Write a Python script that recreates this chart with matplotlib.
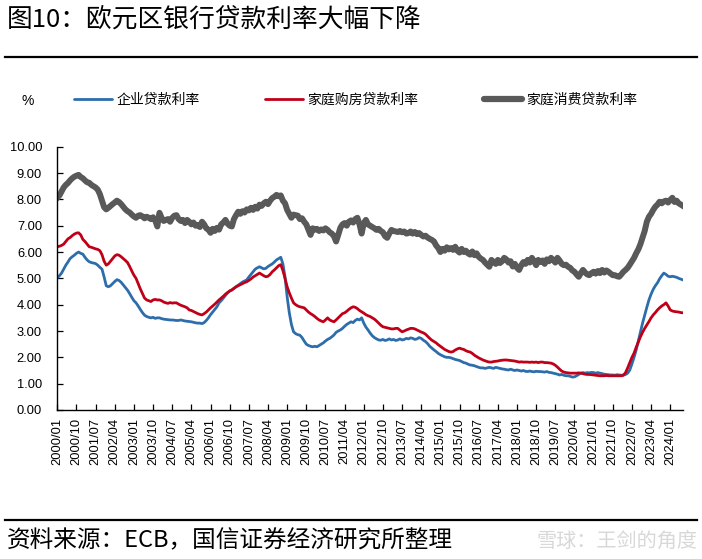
import matplotlib
matplotlib.use("Agg")
import matplotlib.pyplot as plt
from matplotlib.lines import Line2D
import numpy as np

plt.rcParams['font.family'] = ['Liberation Sans', 'Noto Sans CJK SC', 'DejaVu Sans']
CJK = ['Noto Sans CJK SC', 'DejaVu Sans']

# monthly, 2000/01 - 2024/07
months = [f"{y}/{m:02d}" for y in range(2000, 2025) for m in range(1, 13)][:295]

corp_rate = [
    5.02, 5.10, 5.20, 5.35, 5.50, 5.62, 5.75, 5.82, 5.88, 5.95, 6.00, 5.95,
    5.92, 5.80, 5.70, 5.63, 5.60, 5.58, 5.56, 5.50, 5.42, 5.35, 5.05, 4.72,
    4.68, 4.72, 4.80, 4.88, 4.95, 4.92, 4.85, 4.75, 4.65, 4.55, 4.42, 4.28,
    4.15, 4.07, 3.95, 3.82, 3.70, 3.60, 3.55, 3.52, 3.50, 3.52, 3.48, 3.50,
    3.50, 3.47, 3.45, 3.44, 3.43, 3.42, 3.42, 3.41, 3.40, 3.40, 3.42, 3.40,
    3.38, 3.37, 3.36, 3.35, 3.33, 3.31, 3.30, 3.30, 3.28, 3.32, 3.40, 3.50,
    3.62, 3.72, 3.82, 3.92, 4.07, 4.15, 4.25, 4.35, 4.45, 4.52, 4.56, 4.62,
    4.68, 4.74, 4.80, 4.86, 4.90, 4.94, 5.05, 5.15, 5.25, 5.35, 5.40, 5.44,
    5.40, 5.36, 5.38, 5.45, 5.50, 5.55, 5.62, 5.70, 5.75, 5.80, 5.55, 5.05,
    4.30, 3.70, 3.25, 2.97, 2.90, 2.86, 2.84, 2.75, 2.62, 2.50, 2.45, 2.42,
    2.40, 2.42, 2.40, 2.45, 2.50, 2.55, 2.62, 2.68, 2.72, 2.78, 2.85, 2.95,
    3.00, 3.04, 3.10, 3.18, 3.25, 3.30, 3.35, 3.32, 3.40, 3.45, 3.42, 3.50,
    3.30, 3.15, 3.04, 2.92, 2.82, 2.75, 2.70, 2.66, 2.65, 2.68, 2.64, 2.66,
    2.70, 2.66, 2.68, 2.64, 2.66, 2.70, 2.66, 2.68, 2.72, 2.70, 2.74, 2.72,
    2.68, 2.70, 2.75, 2.72, 2.65, 2.60, 2.52, 2.42, 2.35, 2.28, 2.22, 2.15,
    2.10, 2.06, 2.02, 2.00, 2.00, 1.98, 1.95, 1.92, 1.90, 1.88, 1.84, 1.80,
    1.78, 1.74, 1.71, 1.70, 1.68, 1.65, 1.62, 1.60, 1.60, 1.58, 1.60, 1.62,
    1.60, 1.58, 1.62, 1.60, 1.58, 1.56, 1.55, 1.53, 1.52, 1.55, 1.52, 1.50,
    1.52, 1.50, 1.48, 1.50, 1.47, 1.46, 1.48, 1.46, 1.45, 1.47, 1.46, 1.46,
    1.45, 1.44, 1.46, 1.43, 1.42, 1.40, 1.38, 1.36, 1.33, 1.35, 1.32, 1.30,
    1.30, 1.28, 1.25, 1.26, 1.30, 1.35, 1.40, 1.42, 1.40, 1.42, 1.41, 1.43,
    1.42, 1.40, 1.42, 1.40, 1.38, 1.36, 1.35, 1.34, 1.33, 1.33, 1.32, 1.34,
    1.33, 1.32, 1.33, 1.35, 1.40, 1.52, 1.75, 2.00, 2.28, 2.62, 2.95, 3.30,
    3.60, 3.90, 4.18, 4.40, 4.58, 4.72, 4.83, 4.98, 5.10, 5.20, 5.15, 5.08,
    5.06, 5.08, 5.06, 5.04, 5.00, 4.97, 4.94,
]

mortgage_rate = [
    6.20, 6.22, 6.25, 6.30, 6.40, 6.50, 6.55, 6.62, 6.68, 6.72, 6.73, 6.65,
    6.48, 6.40, 6.30, 6.20, 6.18, 6.15, 6.12, 6.10, 6.05, 5.90, 5.65, 5.50,
    5.55, 5.65, 5.75, 5.85, 5.90, 5.88, 5.82, 5.75, 5.68, 5.60, 5.45, 5.28,
    5.12, 5.00, 4.80, 4.60, 4.42, 4.25, 4.18, 4.15, 4.12, 4.18, 4.20, 4.18,
    4.18, 4.15, 4.10, 4.07, 4.05, 4.08, 4.06, 4.07, 4.07, 4.02, 3.98, 3.95,
    3.92, 3.88, 3.80, 3.78, 3.74, 3.70, 3.66, 3.63, 3.61, 3.66, 3.72, 3.80,
    3.88, 3.95, 4.02, 4.10, 4.18, 4.25, 4.32, 4.40, 4.46, 4.52, 4.56, 4.62,
    4.68, 4.72, 4.76, 4.80, 4.84, 4.87, 4.92, 4.98, 5.05, 5.10, 5.15, 5.20,
    5.15, 5.10, 5.06, 5.08, 5.15, 5.25, 5.32, 5.40, 5.48, 5.52, 5.30, 5.00,
    4.68, 4.45, 4.25, 4.07, 4.00, 3.95, 3.92, 3.90, 3.88, 3.80, 3.72, 3.66,
    3.61, 3.55, 3.48, 3.42, 3.38, 3.35, 3.42, 3.50, 3.42, 3.38, 3.35, 3.42,
    3.50, 3.58, 3.66, 3.69, 3.75, 3.82, 3.88, 3.92, 3.90, 3.85, 3.78, 3.73,
    3.68, 3.62, 3.58, 3.55, 3.50, 3.45, 3.38, 3.30, 3.22, 3.16, 3.14, 3.12,
    3.10, 3.08, 3.08, 3.10, 3.10, 3.03, 2.97, 3.00, 3.04, 3.07, 3.10, 3.10,
    3.08, 3.04, 3.00, 2.96, 2.93, 2.88, 2.80, 2.72, 2.65, 2.60, 2.55, 2.48,
    2.42, 2.36, 2.30, 2.26, 2.22, 2.20, 2.22, 2.28, 2.32, 2.35, 2.32, 2.30,
    2.25, 2.22, 2.20, 2.15, 2.08, 2.03, 1.98, 1.94, 1.90, 1.87, 1.84, 1.82,
    1.82, 1.84, 1.85, 1.86, 1.88, 1.89, 1.90, 1.90, 1.89, 1.88, 1.87, 1.86,
    1.84, 1.82, 1.83, 1.82, 1.82, 1.82, 1.81, 1.82, 1.81, 1.82, 1.80, 1.82,
    1.82, 1.80, 1.80, 1.79, 1.78, 1.75, 1.70, 1.63, 1.55, 1.48, 1.44, 1.42,
    1.41, 1.40, 1.40, 1.40, 1.40, 1.41, 1.40, 1.38, 1.36, 1.35, 1.35, 1.34,
    1.33, 1.32, 1.31, 1.30, 1.30, 1.30, 1.31, 1.30, 1.30, 1.30, 1.30, 1.30,
    1.30, 1.30, 1.32, 1.42, 1.60, 1.80, 2.00, 2.16, 2.38, 2.58, 2.78, 2.95,
    3.10, 3.23, 3.36, 3.50, 3.61, 3.70, 3.80, 3.88, 3.95, 4.00, 4.07, 3.95,
    3.80, 3.76, 3.74, 3.73, 3.72, 3.70, 3.69,
]

consumer_rate = [
    8.06, 8.15, 8.30, 8.45, 8.55, 8.62, 8.72, 8.80, 8.86, 8.90, 8.93, 8.85,
    8.80, 8.72, 8.65, 8.63, 8.55, 8.50, 8.45, 8.37, 8.20, 7.95, 7.70, 7.62,
    7.68, 7.75, 7.82, 7.88, 7.95, 7.90, 7.82, 7.72, 7.62, 7.55, 7.50, 7.42,
    7.35, 7.30, 7.38, 7.40, 7.35, 7.28, 7.34, 7.30, 7.25, 7.32, 7.20, 6.97,
    7.49, 7.30, 7.18, 7.22, 7.25, 7.15, 7.30, 7.38, 7.40, 7.25, 7.18, 7.22,
    7.10, 7.22, 7.15, 7.05, 7.12, 7.00, 7.03, 6.95, 7.15, 7.05, 6.90, 6.85,
    6.73, 6.88, 6.80, 6.92, 6.85, 7.05, 7.12, 7.22, 7.08, 7.00, 6.97, 7.25,
    7.40, 7.53, 7.45, 7.55, 7.50, 7.62, 7.58, 7.68, 7.60, 7.72, 7.65, 7.80,
    7.75, 7.85, 7.91, 7.82, 7.95, 8.05, 8.10, 8.17, 8.12, 8.15, 7.95, 7.85,
    7.60, 7.45, 7.30, 7.42, 7.40, 7.38, 7.25, 7.28, 7.15, 7.05, 6.85, 6.65,
    6.90, 6.85, 6.88, 6.80, 6.86, 6.82, 6.90, 6.84, 6.75, 6.70, 6.60, 6.40,
    6.65, 6.92, 7.05, 7.10, 7.00, 7.15, 7.20, 7.12, 7.25, 7.30, 7.05, 6.70,
    7.10, 7.22, 7.05, 7.00, 6.95, 6.90, 6.84, 6.88, 6.80, 6.75, 6.60, 6.54,
    6.70, 6.84, 6.80, 6.78, 6.76, 6.80, 6.75, 6.78, 6.70, 6.72, 6.78, 6.70,
    6.76, 6.68, 6.72, 6.65, 6.59, 6.62, 6.55, 6.50, 6.46, 6.40, 6.25, 6.15,
    6.00, 6.12, 6.05, 6.18, 6.10, 6.15, 6.08, 6.20, 6.05, 5.98, 6.12, 6.00,
    6.05, 5.95, 5.90, 6.02, 5.88, 5.95, 5.82, 5.75, 5.70, 5.60, 5.52, 5.44,
    5.70, 5.62, 5.55, 5.70, 5.58, 5.65, 5.78, 5.72, 5.60, 5.65, 5.45, 5.55,
    5.40, 5.32, 5.50, 5.62, 5.55, 5.70, 5.60, 5.78, 5.65, 5.50, 5.70, 5.62,
    5.68, 5.55, 5.72, 5.65, 5.78, 5.70, 5.60, 5.78, 5.68, 5.55, 5.50, 5.52,
    5.44, 5.40, 5.30, 5.25, 5.15, 5.06, 5.20, 5.32, 5.22, 5.15, 5.12, 5.20,
    5.25, 5.18, 5.28, 5.20, 5.32, 5.22, 5.30, 5.25, 5.18, 5.12, 5.12, 5.08,
    5.06, 5.15, 5.25, 5.32, 5.40, 5.52, 5.65, 5.78, 5.95, 6.10, 6.30, 6.55,
    6.80, 7.15, 7.34, 7.45, 7.60, 7.72, 7.80, 7.91, 7.85, 7.92, 7.95, 7.88,
    7.98, 8.06, 7.90, 7.95, 7.85, 7.80, 7.75,
]

series_names = ["企业贷款利率", "家庭购房贷款利率", "家庭消费贷款利率"]
colors = ["#2E6DAB", "#C00018", "#595959"]
widths = [2.0, 2.0, 4.3]

fig = plt.figure(figsize=(7.02, 5.59), dpi=100)
ax = fig.add_axes([57.3 / 702, 1 - 410 / 559, (683 - 57.3) / 702, (410 - 146.7) / 559])

x = np.arange(len(months))
for vals, c, w in zip([corp_rate, mortgage_rate, consumer_rate], colors, widths):
    ax.plot(x, vals, color=c, lw=w, solid_joinstyle='round')

ax.set_xlim(0, len(months) - 1)
ax.set_ylim(0, 10)
ax.set_yticks(np.arange(0, 11, 1))
ax.set_yticklabels([f"{v:.2f}" for v in range(0, 11)])
ax.set_xticks(x[::9])
ax.set_xticklabels(months[::9], rotation=90)

for s in ["top", "right"]:
    ax.spines[s].set_visible(False)
for s in ["left", "bottom"]:
    ax.spines[s].set_color("black")
    ax.spines[s].set_linewidth(1.0)
ax.tick_params(axis="both", direction="in", length=4, width=0.9, colors="black",
               labelsize=9.3)
ax.tick_params(axis="y", pad=11)
ax.tick_params(axis="x", pad=6)

# legend
handles = [Line2D([], [], color=c, lw=w if w < 3 else 4.5, solid_capstyle='round')
           for c, w in zip(colors, widths)]
fig.legend(handles, series_names, loc="center left",
           bbox_to_anchor=(74 / 702, 1 - 100 / 559), ncol=3, frameon=False,
           borderpad=0, borderaxespad=0, handlelength=2.75, handletextpad=0.3,
           columnspacing=4.7, prop={"family": CJK, "size": 10})
fig.text(28 / 702, 1 - 101 / 559, "%", fontsize=10, ha="center", va="center")

# title and footer
fig.text(7 / 702, 1 - 20 / 559, "图10：欧元区银行贷款利率大幅下降", family=CJK,
         fontsize=18.5, ha="left", va="center")
fig.add_artist(Line2D([5 / 702, 697 / 702], [1 - 57 / 559, 1 - 57 / 559],
                      color="black", lw=1.6))
fig.add_artist(Line2D([5 / 702, 697 / 702], [1 - 520 / 559, 1 - 520 / 559],
                      color="black", lw=1.6))
fig.text(7 / 702, 1 - 541 / 559, "资料来源：ECB，国信证券经济研究所整理", family=CJK,
         fontsize=17, ha="left", va="center")
fig.text(697 / 702, 1 - 541 / 559, "雪球：王剑的角度", family=CJK,
         fontsize=14.5, color="#d8d8d8", ha="right", va="center")

fig.savefig("out.png", dpi=100)
